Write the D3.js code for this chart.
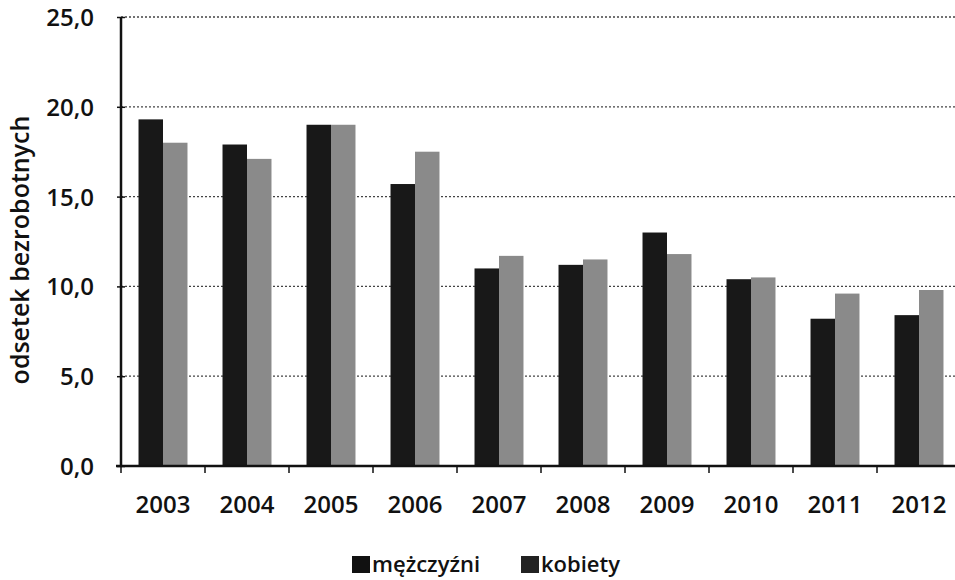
<!DOCTYPE html>
<html>
<head>
<meta charset="utf-8">
<script src="https://cdn.jsdelivr.net/npm/d3@7"></script>
<style>
  body { margin: 0; background: #fff; }
  svg { display: block; }
  text { font-family: "Open Sans", Lato, sans-serif; fill: #111; }
</style>
</head>
<body>
<script>
var years = ["2003", "2004", "2005", "2006", "2007", "2008", "2009", "2010", "2011", "2012"];
var men = [19.3, 17.9, 19.0, 15.7, 11.0, 11.2, 13.0, 10.4, 8.2, 8.4];
var women = [18.0, 17.1, 19.0, 17.5, 11.7, 11.5, 11.8, 10.5, 9.6, 9.8];
var yTicks = [0, 5, 10, 15, 20, 25];
var seriesNames = ["mężczyźni", "kobiety"];
var seriesColors = ["#181818", "#8a8a8a"];
var legendColors = ["#111", "#222"];

var width = 955, height = 580;
var margin = { top: 17, left: 121 };
var h = 466 - margin.top;      // plot height
var w = width - margin.left;   // visible width of the plot
var step = 84;

var svg = d3.select("body").append("svg")
    .attr("width", width)
    .attr("height", height);

var g = svg.append("g")
    .attr("transform", "translate(" + margin.left + "," + margin.top + ")");

// plot runs slightly past the right edge of the picture, as in the scan
var x = d3.scaleBand()
    .domain(years)
    .range([0, step * years.length])
    .paddingInner(0.417)
    .paddingOuter(0.2085);

var x1 = d3.scaleBand()
    .domain([0, 1])
    .range([0, x.bandwidth()]);

var y = d3.scaleLinear()
    .domain([0, 25])
    .range([h, 0]);

// gridlines
g.selectAll(".grid")
    .data(yTicks.slice(1))
    .enter().append("line")
    .attr("x1", 0)
    .attr("x2", w)
    .attr("y1", function (d) { return y(d); })
    .attr("y2", function (d) { return y(d); })
    .style("stroke", "#444")
    .style("stroke-width", 1.3)
    .style("stroke-dasharray", "2,2");

// bars
var groups = g.selectAll(".year")
    .data(years)
    .enter().append("g")
    .attr("transform", function (d) { return "translate(" + x(d) + ",0)"; });

[men, women].forEach(function (vals, s) {
    groups.append("rect")
        .attr("x", x1(s))
        .attr("width", x1.bandwidth())
        .attr("y", function (d, i) { return y(vals[i]); })
        .attr("height", function (d, i) { return h - y(vals[i]); })
        .style("fill", seriesColors[s]);
});

// y axis
var yAxis = d3.axisLeft(y)
    .tickValues(yTicks)
    .tickSize(3)
    .tickPadding(24)
    .tickFormat(function (d) { return d3.format(".1f")(d).replace(".", ","); });

var gY = g.append("g").call(yAxis);
gY.select(".domain").style("stroke", "#111").style("stroke-width", 2.5).attr("d", "M0," + h + "V0");
gY.selectAll(".tick line").attr("x1", -4).attr("x2", 4).style("stroke", "#111").style("stroke-width", 1.5);
gY.selectAll(".tick text")
    .style("font-size", "24px")
    .style("font-weight", 600)
    .attr("dy", "0.35em");

// x axis
var gX = g.append("g").attr("transform", "translate(0," + h + ")");
gX.append("line")
    .attr("x1", -5).attr("x2", w)
    .style("stroke", "#111").style("stroke-width", 2.5);
gX.selectAll(".tk")
    .data(years)
    .enter().append("line")
    .attr("x1", function (d) { return x(d) - (step - x.bandwidth()) / 2; })
    .attr("x2", function (d) { return x(d) - (step - x.bandwidth()) / 2; })
    .attr("y1", 0).attr("y2", 7)
    .style("stroke", "#111").style("stroke-width", 1.5);
gX.selectAll(".lbl")
    .data(years)
    .enter().append("text")
    .attr("x", function (d) { return x(d) + x.bandwidth() / 2; })
    .attr("y", 47)
    .attr("text-anchor", "middle")
    .style("font-size", "24px")
    .style("font-weight", 600)
    .text(function (d) { return d; });

// y axis title
svg.append("text")
    .attr("transform", "translate(29,250) rotate(-90)")
    .attr("text-anchor", "middle")
    .style("font-size", "25px")
    .style("font-weight", 600)
    .text("odsetek bezrobotnych");

// legend
var legend = svg.append("g").attr("transform", "translate(352,564)");
var offsets = [0, 169];
seriesNames.forEach(function (name, i) {
    legend.append("rect")
        .attr("x", offsets[i])
        .attr("y", -8)
        .attr("width", 18)
        .attr("height", 17)
        .style("fill", legendColors[i]);
    legend.append("text")
        .attr("x", offsets[i] + 20)
        .attr("y", 0)
        .attr("dy", "0.35em")
        .style("font-size", "22px")
        .style("font-weight", 600)
        .text(name);
});
</script>
</body>
</html>
